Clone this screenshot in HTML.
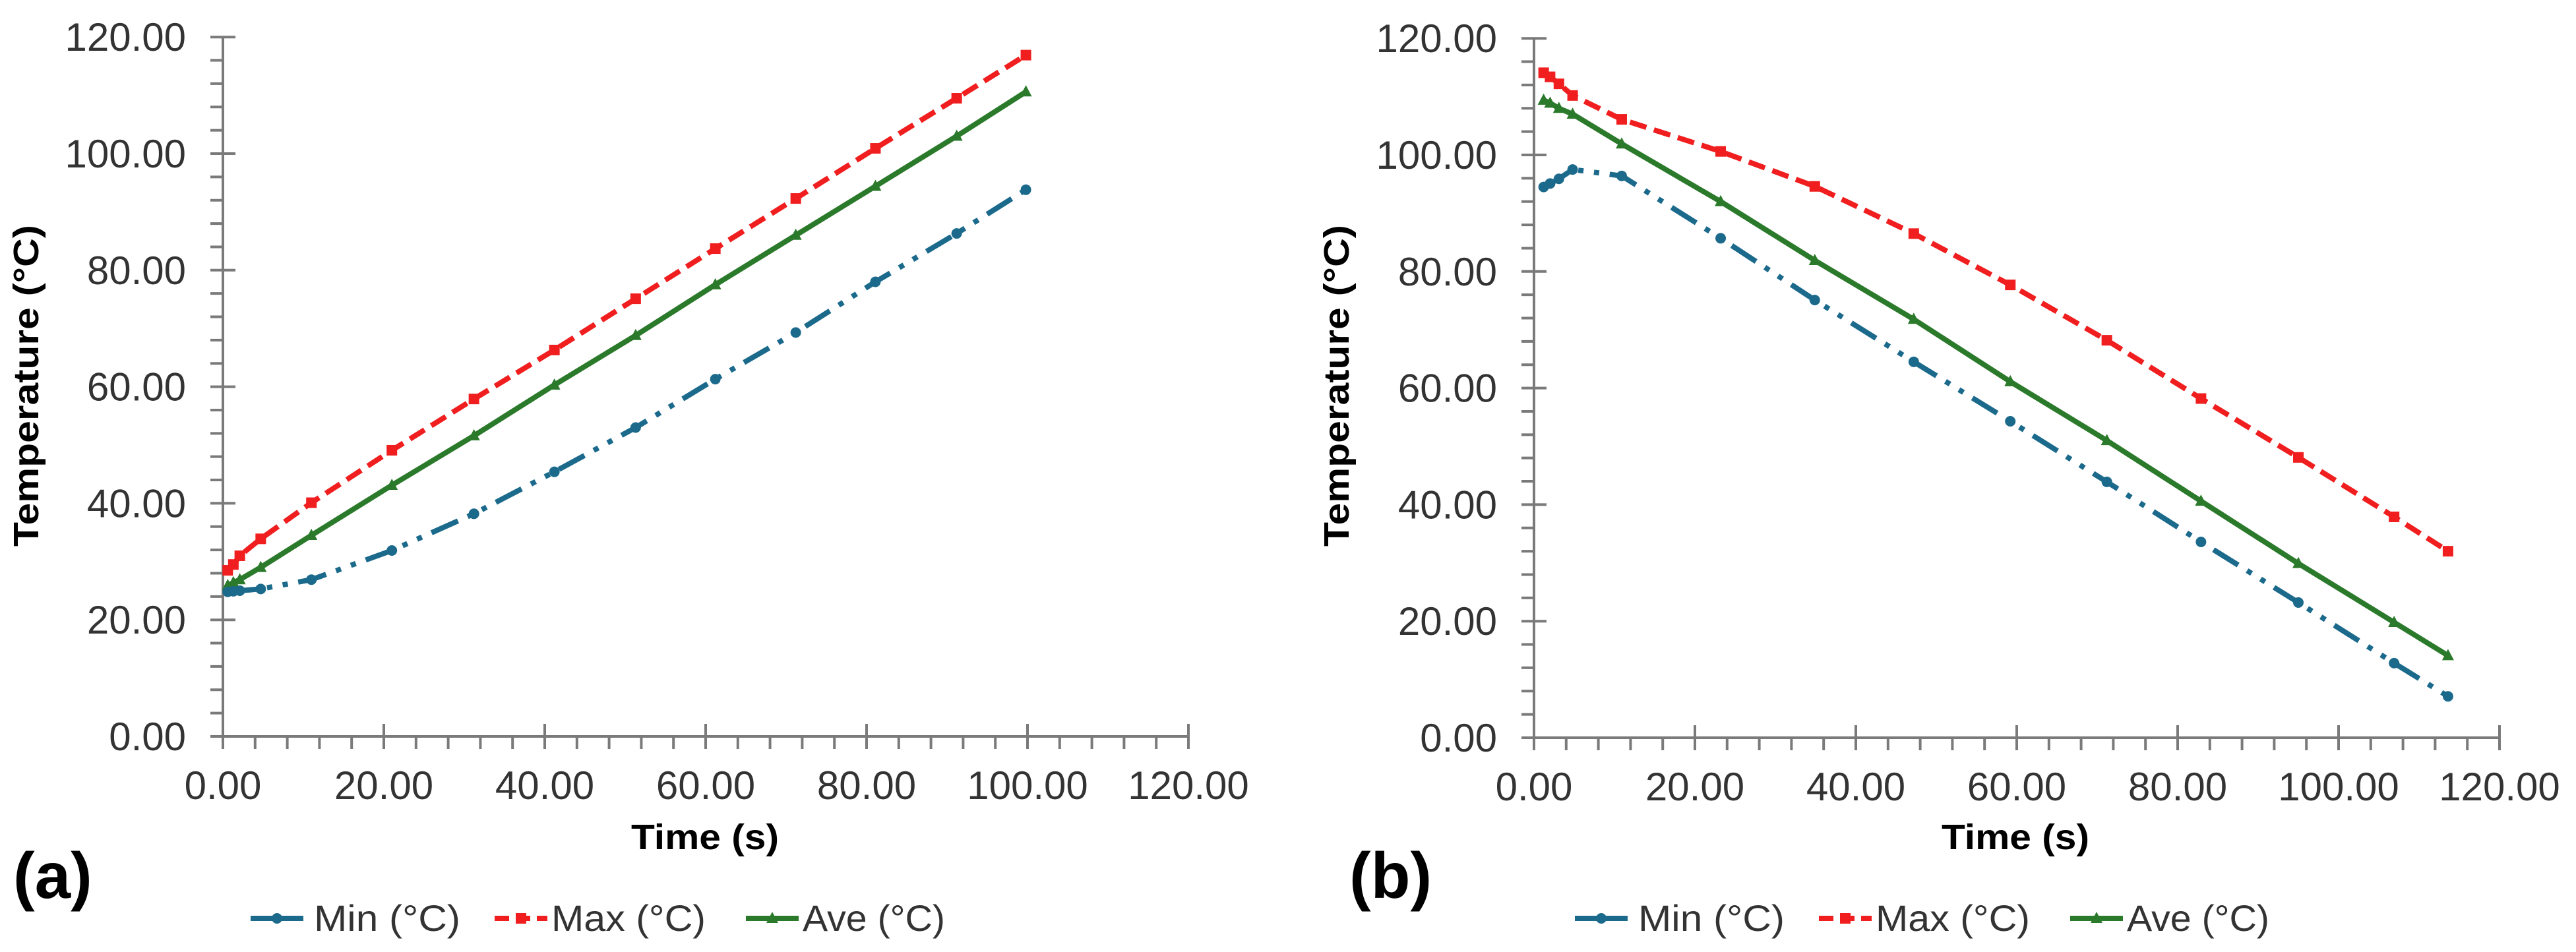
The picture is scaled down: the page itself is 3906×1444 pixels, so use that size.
<!DOCTYPE html>
<html><head><meta charset="utf-8"><style>html,body{margin:0;padding:0;background:#fff}svg{display:block}</style></head>
<body>
<svg id="fig" width="3906" height="1444" viewBox="0 0 3906 1444" xmlns="http://www.w3.org/2000/svg" font-family="'Liberation Sans', sans-serif"></svg>
<script>
const tA = [0.6,1.3,2.1,4.7,11,21,31.2,41.2,51.3,61.2,71.2,81.1,91.2,99.8];
const maxA = [28.5,29.5,31,33.9,40.1,49.1,57.9,66.3,75.1,83.7,92.3,100.9,109.5,116.9];
const aveA = [25.9,26.4,26.9,29,34.5,43.1,51.6,60.3,68.8,77.5,86,94.4,103,110.6];
const minA = [24.8,24.9,25,25.3,26.9,31.9,38.2,45.4,53,61.3,69.3,78,86.3,93.8];
const tB = [1.2,2,3.1,4.8,10.9,23.2,34.9,47.2,59.2,71.2,82.9,95,106.9,113.6];
const maxB = [114.1,113.4,112.2,110.2,106.1,100.6,94.6,86.5,77.7,68.2,58.2,48.1,37.9,32];
const aveB = [109.4,108.9,108,107,101.9,92,81.9,71.8,61.1,51,40.6,29.9,19.8,14.1];
const minB = [94.5,95.1,95.9,97.5,96.4,85.7,75.1,64.5,54.3,43.9,33.6,23.2,12.8,7.1];
const xTicks = [0,20,40,60,80,100,120];
const yTicks = [0,20,40,60,80,100,120];
const legendLabels = ['Min (°C)','Max (°C)','Ave (°C)'];

const NS='http://www.w3.org/2000/svg';
const svg=document.getElementById('fig');
function mk(tag,attrs,parent){const e=document.createElementNS(NS,tag);for(const k in attrs)e.setAttribute(k,attrs[k]);(parent||svg).appendChild(e);return e;}
const C={min:'#1b6a8c',max:'#f01e1e',ave:'#2b7a2b'};
const DASH={min:'44 16 8 16 8 16',max:'26 12',ave:'none'};

function panel(p){
  const g=mk('g',{});
  
  
  const X=v=>p.x0+v*12.2, Y=v=>p.y0-v*8.84;
  const axis=mk('g',{stroke:'#7a7a7a','stroke-width':4},g);
  
  
  mk('line',{x1:X(0),y1:Y(0),x2:X(120),y2:Y(0)},axis);
  mk('line',{x1:X(0),y1:Y(0),x2:X(0),y2:Y(120)},axis);
  for(let v=0;v<=120;v+=4){
    const maj=v%20===0;
    mk('line',{x1:X(v),y1:maj?Y(0)-19:Y(0),x2:X(v),y2:Y(0)+19},axis);
    mk('line',{x1:X(0)-19,y1:Y(v),x2:maj?X(0)+19:X(0),y2:Y(v)},axis);
  }
  xTicks.forEach(v=>{const t=mk('text',{x:X(v),y:p.y0+95,'font-size':60,'text-anchor':'middle',fill:'#333'},g);t.textContent=v.toFixed(2);
    
    });
  yTicks.forEach(v=>{const t=mk('text',{x:p.x0-56,y:Y(v)+21,'font-size':60,'text-anchor':'end',fill:'#333'},g);t.textContent=v.toFixed(2);
    
    });
  const yt=mk('text',{x:0,y:0,'font-size':54,'font-weight':'bold','text-anchor':'middle',transform:`translate(${p.ytx},585) rotate(-90)`,textLength:488,lengthAdjust:'spacingAndGlyphs'},g);
  yt.textContent='Temperature (°C)';
  
  
  const xt=mk('text',{x:p.xtx,y:1288,'font-size':54,'font-weight':'bold','text-anchor':'middle',textLength:224,lengthAdjust:'spacingAndGlyphs'},g);
  xt.textContent='Time (s)';
  
  
  const lb=mk('text',{x:p.lx,y:1362,'font-size':98,'font-weight':'bold'},g);
  lb.textContent=p.label;
  
  
  const series=[['max',p.max],['ave',p.ave],['min',p.min]];
  series.forEach(([k,arr])=>{
    const pts=p.t.map((tv,i)=>X(tv).toFixed(1)+','+Y(arr[i]).toFixed(1)).join(' ');
    const pl=mk('polyline',{points:pts,fill:'none',stroke:C[k],'stroke-width':8,'stroke-dasharray':DASH[k],'stroke-linejoin':'round'},g);
    
    
    p.t.forEach((tv,i)=>{
      const cx=X(tv),cy=Y(arr[i]);let m;
      if(k==='max')m=mk('rect',{x:cx-8,y:cy-8,width:16,height:16,fill:C[k]},g);
      else if(k==='ave')m=mk('polygon',{points:`${cx},${cy-10} ${cx+9},${cy+7} ${cx-9},${cy+7}`,fill:C[k]},g);
      else m=mk('circle',{cx:cx,cy:cy,r:8,fill:C[k]},g);
      
      
    });
  });
  // legend
  const lg=mk('g',{},g);
  
  
  const ks=['min','max','ave'];
  const offs=[0,370,751], tw=[222,234,216];
  ks.forEach((k,i)=>{
    const x=p.legx+offs[i], y=1393;
    const e=mk('g',{},lg);
    
    
    mk('line',{x1:x,y1:y,x2:x+80,y2:y,stroke:C[k],'stroke-width':8,'stroke-dasharray':k==='max'?'22 10':'none'},e);
    if(k==='max')mk('rect',{x:x+32,y:y-8,width:16,height:16,fill:C[k]},e);
    else if(k==='ave')mk('polygon',{points:`${x+40},${y-10} ${x+49},${y+7} ${x+31},${y+7}`,fill:C[k]},e);
    else mk('circle',{cx:x+40,cy:y,r:8,fill:C[k]},e);
    const t=mk('text',{x:x+(k==='min'?96:86),y:y+19,'font-size':56,fill:'#333',textLength:tw[i],lengthAdjust:'spacingAndGlyphs'},e);
    t.textContent=legendLabels[i];
  });
}
panel({id:'a',x0:338,y0:1117,t:tA,max:maxA,ave:aveA,min:minA,ytx:58,xtx:1069,lx:20,label:'(a)',legx:380});
panel({id:'b',x0:2326,y0:1119,t:tB,max:maxB,ave:aveB,min:minB,ytx:2045,xtx:3056,lx:2046,label:'(b)',legx:2388});
</script>
</body></html>
